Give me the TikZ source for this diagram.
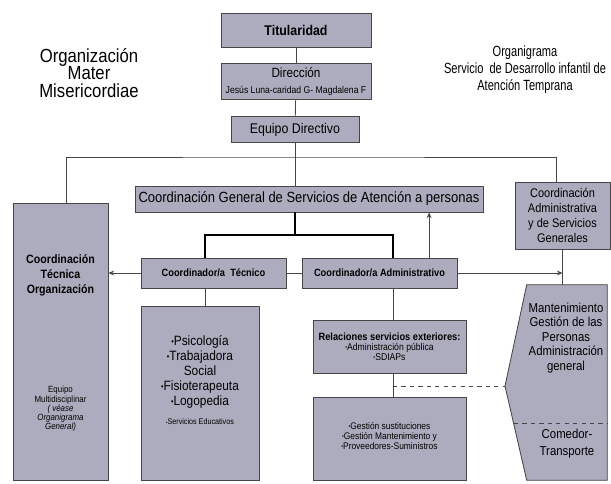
\documentclass[tikz,border=0pt]{standalone}
\usepackage{fontspec}
\setmainfont{Liberation Sans}[FakeStretch=0.88]
\newfontfamily\narrowfont{Liberation Sans}[FakeStretch=0.75]
\usetikzlibrary{arrows.meta,positioning,calc}
\definecolor{boxgray}{RGB}{172,172,190}
\definecolor{linegray}{RGB}{70,70,70}
\newcommand{\fsz}[2]{\fontsize{#1}{#2}\selectfont}
\newcommand{\bul}{\raisebox{0.15ex}{\scalebox{0.6}{\textbullet}}}

\begin{document}
\begin{tikzpicture}[
    x=0.025cm, y=-0.025cm,
    box/.style={draw=linegray, fill=boxgray, line width=0.6pt, inner sep=1pt, align=center},
    link/.style={draw=linegray, line width=0.6pt},
    trunk/.style={draw=black, line width=1.6pt},
    title/.style={align=center, inner sep=0pt},
    >={Stealth[length=4pt,width=3.5pt]}
]
\useasboundingbox (0,0) rectangle (611,483);

% Titles
\node[title, font=\fsz{13.5}{12.6}] (org) at (89,73) {Organización\\Mater\\Misericordiae};
\node[title, font=\narrowfont\fsz{10.5}{12.1}] (orgr) at (525,70) {Organigrama\\Servicio\ \ de Desarrollo infantil de\\Atención Temprana};

% Top chain
\node[box, minimum width=3.75cm, minimum height=0.85cm, font=\bfseries\fsz{10}{12}] (tit) at (296,30) {Titularidad};
\node[box, minimum width=3.75cm, minimum height=0.92cm] (dir) at (296,81.5)
    {{\fsz{9.5}{11}Dirección}\\[-1pt]{\fsz{7}{8}Jesús Luna-caridad G- Magdalena F}};
\node[box, minimum width=3.2cm, minimum height=0.65cm, font=\fsz{10}{12}] (equ) at (295,129.5) {Equipo Directivo};
\node[box, minimum width=8.7cm, minimum height=0.65cm, font=\fsz{10.5}{12}] (cg) at (309,199)
    {Coordinación General de Servicios de Atención a personas};

% Side columns
\node[box, minimum width=2.375cm, minimum height=6.925cm] (cto) at (60.5,341.5) {};
\node[title, font=\bfseries\fsz{8.6}{10.7}] (ctotxt) at (60.5,275) {Coordinación\\Técnica\\Organización};
\node[title, font=\fsz{6.4}{6.6}] (equipo) at (60.5,409)
    {Equipo\\Multidisciplinar\\\itshape( véase\\\itshape Organigrama\\\itshape General)};
\node[box, minimum width=2.375cm, minimum height=1.675cm, font=\fsz{8.9}{10.7}] (cadm) at (562.5,215.5)
    {Coordinación\\Administrativa\\y de Servicios\\Generales};

% Coordinators
\node[box, minimum width=3.625cm, minimum height=0.75cm, font=\bfseries\fsz{7.5}{9}] (ct) at (213.5,273) {Coordinador/a\ \ Técnico};
\node[box, minimum width=3.875cm, minimum height=0.75cm, font=\bfseries\fsz{7.5}{9}] (ca) at (379.5,273) {Coordinador/a Administrativo};

% Lower boxes
\node[box, minimum width=2.95cm, minimum height=4.35cm] (psi) at (200,393) {};
\node[title, font=\fsz{9.6}{10.7}] (psitxt) at (200,372)
    {\bul Psicología\\\bul Trabajadora\\Social\\\bul Fisioterapeuta\\\bul Logopedia};
\node[title, font=\fsz{5.8}{7}] (edu) at (200,422) {\bul Servicios Educativos};
\node[box, minimum width=3.825cm, minimum height=1.325cm, font=\fsz{7}{7.2}] (rel) at (389.5,346.5)
    {{\bfseries\fsz{7.5}{7.2}Relaciones servicios exteriores:}\\\bul Administración pública\\\bul SDIAPs};
\node[box, minimum width=3.825cm, minimum height=2.075cm] (ges) at (389.5,438.5) {};
\node[title, font=\fsz{6.8}{7.2}] (gestxt) at (389.5,436)
    {\bul Gestión sustituciones\\\bul Gestión Mantenimiento y\\\bul Proveedores-Suministros};

% Mantenimiento block (pointed on the left)
\node[minimum width=2cm, minimum height=4.875cm, inner sep=0pt] (man) at (567,382.5) {};
\coordinate (tip) at (505,386);
\filldraw[link, fill=boxgray] (man.north west) -- (man.north east) -- (man.south east)
    -- (man.south west) -- (tip) -- cycle;
\draw[linegray, line width=0.6pt, dashed] (514,423) -- (man.east |- 0,423);
\node[title, font=\fsz{9.2}{10.4}] (mantxt) at (566,338)
    {Mantenimiento\\Gestión de las\\Personas\\Administración\\general};
\node[title, font=\fsz{9.2}{12}] (comtxt) at (567,443.5) {Comedor-\\Transporte};

% Connectors
\coordinate (top) at (296,157);
\coordinate (tcol) at (205,235);
\coordinate (acol) at (393,235);
\draw[link] (tit) -- (dir);
\draw[link] (dir) -- (equ);
\draw[link] (equ.south) -- (equ.south |- cg.north);
\draw[link] ([xshift=0.14cm]cto.north) |- (top) -| ([xshift=-0.14cm]cadm.north);
\draw[trunk] (equ.south |- cg.south) -- (equ.south |- tcol);
\draw[trunk] (tcol |- ct.north) -- (tcol) -- (acol) -- (acol |- ca.north);
\draw[link, ->] (ct.west) -- (ct.west -| cto.east);
\draw[link] (ct.east) -- (ca.west);
\draw[link, ->] ([xshift=1.24cm]ca.north) -- ([xshift=1.24cm]ca.north |- cg.south);
\draw[link, ->] (ca.east) -- (ca.east -| cadm.south);
\draw[link] (cadm.south) -- (cadm.south |- man.north);
\draw[link] (tcol |- ct.south) -- (tcol |- psi.north);
\draw[link] (acol |- ca.south) -- (acol |- rel.north);
\draw[link] (acol |- rel.south) -- (acol |- ges.north);
\draw[link, dashed] (acol |- tip) -- (tip);
\end{tikzpicture}
\end{document}
